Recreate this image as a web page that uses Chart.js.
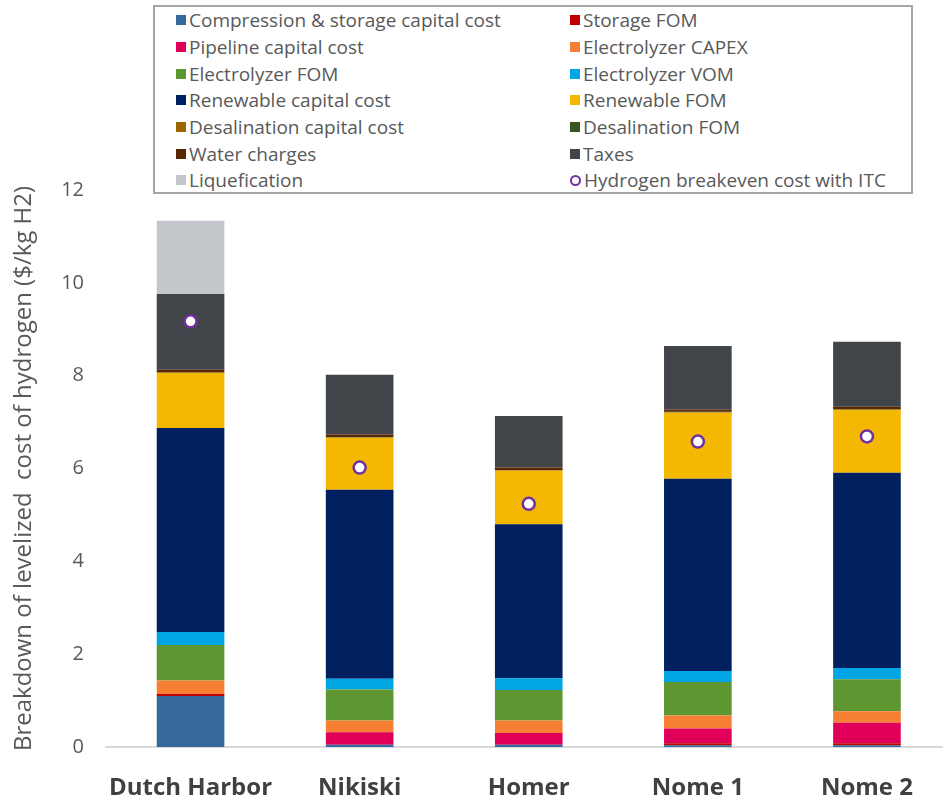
<!DOCTYPE html>
<html>
<head>
<meta charset="utf-8">
<script src="https://cdn.jsdelivr.net/npm/chart.js@4.4.1/dist/chart.umd.min.js"></script>
<style>
  html, body { margin: 0; padding: 0; background: #fff; overflow: hidden; }
  #wrap { position: relative; width: 960px; height: 801px; }
  #legend {
    position: absolute; left: 153px; top: 5px; width: 760px; height: 189px;
    border: 2px solid #a6a6a6; background: #fff;
    display: grid; grid-template-columns: 394px auto; grid-auto-rows: 26.7px;
    padding: 0 0 0 21px; box-sizing: border-box;
    font-family: "Open Sans", sans-serif; font-size: 19px; color: #595959;
  }
  #legend .item { display: flex; align-items: center; white-space: pre; }
  #legend .box { width: 10px; height: 10px; margin-right: 3px; flex: none; }
  #legend .ring { width: 7px; height: 7px; border: 2px solid #7030a0; border-radius: 50%; margin-right: 3px; flex: none; }
</style>
</head>
<body>
<div id="wrap">
  <canvas id="lcoh"></canvas>
  <div id="legend"></div>
</div>
<script>
// Sites and cost components ($/kg H2)
const sites = ["Dutch Harbor", "Nikiski", "Homer", "Nome 1", "Nome 2"];

const compressionStorage = [1.10, 0.05, 0.05, 0.04, 0.04];
const storageFom = [0.04, 0, 0, 0.04, 0.04];
const pipelineCapital = [0, 0.27, 0.25, 0.32, 0.44];
const electrolyzerCapex = [0.29, 0.25, 0.27, 0.28, 0.25];
const electrolyzerFom = [0.77, 0.67, 0.66, 0.72, 0.69];
const electrolyzerVom = [0.28, 0.23, 0.25, 0.24, 0.24];
const renewableCapital = [4.39, 4.07, 3.32, 4.14, 4.21];
const renewableFom = [1.19, 1.12, 1.15, 1.42, 1.35];
const desalCapital = [0.01, 0.01, 0.01, 0.01, 0.01];
const desalFom = [0.01, 0.01, 0.01, 0.01, 0.01];
const waterCharges = [0.05, 0.05, 0.05, 0.05, 0.05];
const taxes = [1.63, 1.29, 1.11, 1.37, 1.40];
const liquefication = [1.58, 0, 0, 0, 0];

const breakevenItc = [9.17, 6.02, 5.24, 6.58, 6.69];

const components = [
  ["Compression & storage capital cost", compressionStorage, "#356a9b"],
  ["Storage FOM", storageFom, "#c00000"],
  ["Pipeline capital cost", pipelineCapital, "#e0005a"],
  ["Electrolyzer CAPEX", electrolyzerCapex, "#f77f33"],
  ["Electrolyzer FOM", electrolyzerFom, "#5e9732"],
  ["Electrolyzer VOM", electrolyzerVom, "#00a5e3"],
  ["Renewable capital cost", renewableCapital, "#002060"],
  ["Renewable FOM", renewableFom, "#f5b800"],
  ["Desalination capital cost", desalCapital, "#9c6500"],
  ["Desalination FOM", desalFom, "#375623"],
  ["Water charges", waterCharges, "#5a2600"],
  ["Taxes", taxes, "#414549"],
  ["Liquefication", liquefication, "#c3c6cb"],
];

const font = "'Open Sans', sans-serif";

const datasets = components.map(([label, data, color]) => ({
  type: "bar",
  label,
  data,
  backgroundColor: color,
  borderWidth: 0,
  order: 1,
}));

datasets.push({
  type: "line",
  label: "Hydrogen breakeven cost with ITC",
  data: breakevenItc,
  stack: "breakeven",
  showLine: false,
  pointStyle: "circle",
  pointRadius: 6,
  pointBackgroundColor: "#ffffff",
  pointBorderColor: "#7030a0",
  pointBorderWidth: 2.5,
  borderColor: "#7030a0",
  order: -1,
});

// builds the two-column legend box from the chart datasets
function buildLegend(chart) {
  const box = document.getElementById("legend");
  box.innerHTML = "";
  chart.data.datasets.forEach((ds) => {
    const item = document.createElement("div");
    item.className = "item";
    const mark = document.createElement("span");
    if (ds.type === "line") {
      mark.className = "ring";
    } else {
      mark.className = "box";
      mark.style.background = ds.backgroundColor;
    }
    item.appendChild(mark);
    item.appendChild(document.createTextNode(ds.label));
    box.appendChild(item);
  });
}

const ctx = document.getElementById("lcoh");

const chart = new Chart(ctx, {
  data: { labels: sites, datasets },
  options: {
    responsive: true,
    maintainAspectRatio: false,
    animation: false,
    layout: { padding: { top: 190, right: 4, left: 0, bottom: 0 } },
    plugins: {
      legend: { display: false },
      tooltip: { enabled: false },
    },
    datasets: {
      bar: { barPercentage: 0.8, categoryPercentage: 0.5 },
    },
    scales: {
      x: {
        stacked: true,
        grid: { display: false },
        border: { display: true, color: "#d9d9d9", width: 2 },
        ticks: {
          color: "#404040",
          padding: 19,
          font: { family: font, size: 24, weight: "bold" },
        },
        afterFit: (scale) => { scale.height = 54; },
      },
      y: {
        stacked: true,
        min: 0,
        max: 12,
        grid: { display: false, drawTicks: false },
        border: { display: false },
        ticks: {
          stepSize: 2,
          color: "#595959",
          padding: 22,
          font: { family: font, size: 20 },
        },
        title: {
          display: true,
          text: "Breakdown of levelized  cost of hydrogen ($/kg H2)",
          color: "#595959",
          padding: { top: 10, bottom: 0 },
          font: { family: font, size: 24 },
        },
        afterFit: (scale) => { scale.width = 106; },
      },
    },
  },
});

buildLegend(chart);
</script>
</body>
</html>
